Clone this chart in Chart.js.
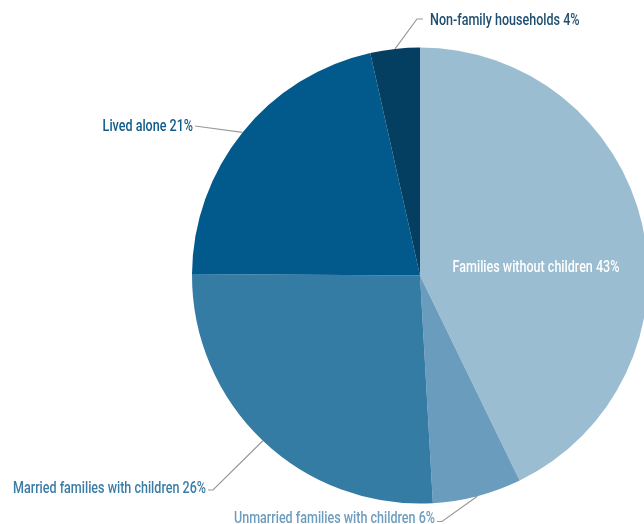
<!DOCTYPE html>
<html>
<head>
<meta charset="utf-8">
<script src="https://cdn.jsdelivr.net/npm/chart.js@4.4.1/dist/chart.umd.min.js"></script>
<style>
html,body{margin:0;padding:0;background:#fff;overflow:hidden;}
#wrap{width:700px;height:524px;}
</style>
</head>
<body>
<div id="wrap"><canvas id="c" width="700" height="524"></canvas></div>
<script>
const categories = ["Families without children", "Unmarried families with children", "Married families with children", "Lived alone", "Non-family households"];
const values = [42.8, 6.3, 26, 21.4, 3.5];
const shownPercent = ["43%", "6%", "26%", "21%", "4%"];

const sliceColors = ["#9bbdd1", "#6a9dbd", "#357ca4", "#02598c", "#043f62"];
const labelColors = ["#ffffff", "#6d9dbe", "#3b7ca6", "#0f5b8c", "#1f4f70"];

// label layout: offsets relative to pie centre (px)
const labelLayout = [
  {inside: true, pos: [116, -8]},
  {elbow: [22, 246], tail: -5, align: "right", dy: -3},
  {elbow: [-207, 214.5], tail: -5, align: "right", dy: -1},
  {elbow: [-225, -149.5], tail: 0, align: "right", dy: 0.5},
  {elbow: [-3, -256.5], tail: 6, align: "left", dy: 1.5}
];

const FONT = '500 16.5px Roboto, "DejaVu Sans Condensed", sans-serif';
const XSCALE = 0.76;

function drawText(ctx, txt, x, y, align, color) {
  ctx.save();
  ctx.font = FONT;
  ctx.fillStyle = color;
  ctx.textBaseline = "middle";
  ctx.textAlign = align;
  ctx.translate(x, y);
  ctx.scale(XSCALE, 1);
  ctx.fillText(txt, 0, 0);
  ctx.restore();
}

const labelPlugin = {
  id: "leaderLabels",
  afterDatasetsDraw(chart) {
    const ctx = chart.ctx;
    const meta = chart.getDatasetMeta(0);
    meta.data.forEach((arc, i) => {
      const p = arc.getProps(["x", "y", "startAngle", "endAngle", "outerRadius"], true);
      const cx = p.x, cy = p.y;
      const txt = categories[i] + " " + shownPercent[i];
      const L = labelLayout[i];
      if (L.inside) {
        drawText(ctx, txt, cx + L.pos[0], cy + L.pos[1], "center", labelColors[i]);
        return;
      }
      const mid = (p.startAngle + p.endAngle) / 2;
      const sx = cx + Math.cos(mid) * p.outerRadius;
      const sy = cy + Math.sin(mid) * p.outerRadius;
      const ex = cx + L.elbow[0], ey = cy + L.elbow[1];
      const tx = ex + L.tail;
      ctx.save();
      ctx.strokeStyle = "#9a9a9a";
      ctx.lineWidth = 1.2;
      ctx.beginPath();
      ctx.moveTo(sx, sy);
      ctx.lineTo(ex, ey);
      ctx.lineTo(tx, ey);
      ctx.stroke();
      ctx.restore();
      const gap = L.align === "left" ? 7 : -2;
      drawText(ctx, txt, tx + gap, ey + L.dy, L.align, labelColors[i]);
    });
  }
};

new Chart(document.getElementById("c"), {
  type: "pie",
  data: {
    labels: categories,
    datasets: [{
      data: values,
      backgroundColor: sliceColors,
      borderWidth: 0
    }]
  },
  options: {
    responsive: false,
    animation: false,
    devicePixelRatio: 1,
    layout: {padding: {left: 192, right: 52, top: 47.5, bottom: 20.5}},
    plugins: {legend: {display: false}, tooltip: {enabled: false}}
  },
  plugins: [labelPlugin]
});
</script>
</body>
</html>
